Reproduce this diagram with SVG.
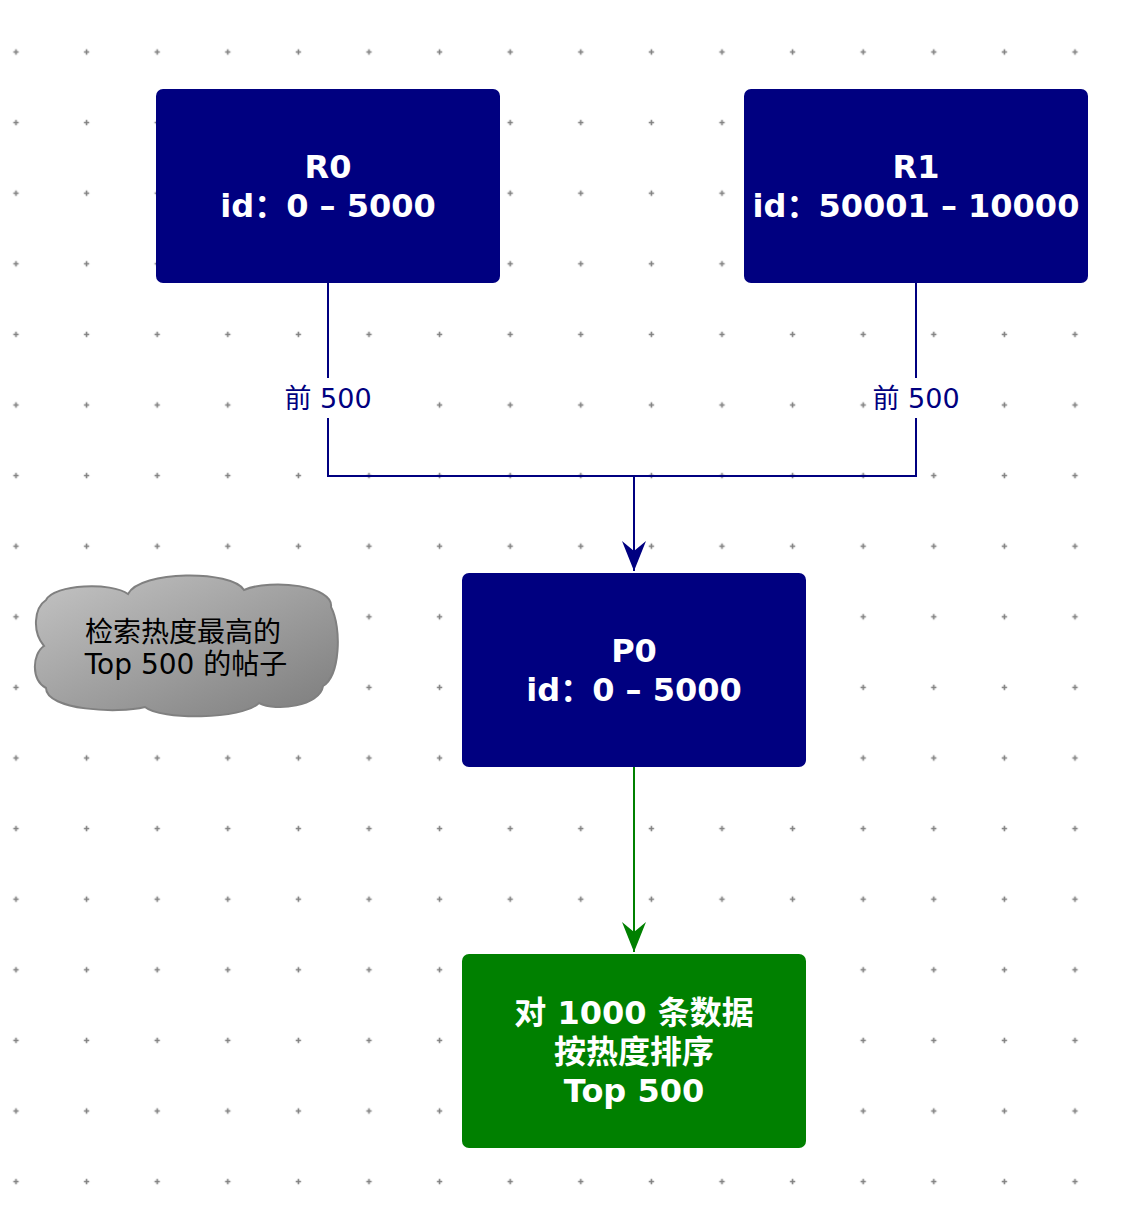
<svg xmlns="http://www.w3.org/2000/svg" width="1136" height="1222" viewBox="0 0 1136 1222">
<defs>
<pattern id="dots" patternUnits="userSpaceOnUse" x="-19.3" y="16.7" width="70.6" height="70.6">
<path d="M32.6 35.3h5.4M35.3 32.6v5.4" stroke="#808080" stroke-width="1.6"/>
</pattern>
<linearGradient id="cg" x1="0" y1="0" x2="1" y2="1">
<stop offset="0" stop-color="#c4c4c4"/>
<stop offset="1" stop-color="#7c7c7c"/>
</linearGradient>
<marker id="ab" markerUnits="userSpaceOnUse" markerWidth="30" markerHeight="34" refX="12" refY="30" orient="0" viewBox="0 0 24 34">
<path d="M12 30L0 0L12 10L24 0Z" fill="#000080"/>
</marker>
<marker id="ag" markerUnits="userSpaceOnUse" markerWidth="30" markerHeight="34" refX="12" refY="30" orient="0" viewBox="0 0 24 34">
<path d="M12 30L0 0L12 10L24 0Z" fill="#008000"/>
</marker>
</defs>
<style>
.node{stroke:none}
.t{font-family:"DejaVu Sans","Noto Sans CJK SC",sans-serif;font-weight:bold;font-size:32px;fill:#fff;text-anchor:middle}
.lbl{font-family:"DejaVu Sans","Noto Sans CJK SC",sans-serif;font-size:27px;fill:#000080;text-anchor:middle}
.ct{font-family:"DejaVu Sans","Noto Sans CJK SC",sans-serif;font-size:28px;fill:#000;text-anchor:middle}
.edge{fill:none;stroke-width:2}
</style>
<rect width="1136" height="1222" fill="#fff"/>
<rect width="1136" height="1222" fill="url(#dots)"/>
<g id="connectors">
<path class="edge" stroke="#000080" d="M328 283V476H634M916 283V476H634"/>
<path class="edge" stroke="#000080" d="M634 476V571" marker-end="url(#ab)"/>
<path class="edge" stroke="#008000" d="M634 767V952" marker-end="url(#ag)"/>
<g id="label-r0">
<rect x="282" y="378" width="92" height="40" fill="#fff"/>
<text class="lbl" x="328" y="408">前 500</text>
</g>
<g id="label-r1">
<rect x="870" y="378" width="92" height="40" fill="#fff"/>
<text class="lbl" x="916" y="408">前 500</text>
</g>
</g>
<g id="R0">
<rect class="node" x="156" y="89" width="344" height="194" rx="7" fill="#000080"/>
<text class="t" x="328" y="178">R0</text>
<text class="t" x="328" y="217">id：0 – 5000</text>
</g>
<g id="R1">
<rect class="node" x="744" y="89" width="344" height="194" rx="7" fill="#000080"/>
<text class="t" x="916" y="178">R1</text>
<text class="t" x="916" y="217">id：50001 – 10000</text>
</g>
<g id="P0">
<rect class="node" x="462" y="573" width="344" height="194" rx="7" fill="#000080"/>
<text class="t" x="634" y="662">P0</text>
<text class="t" x="634" y="701">id：0 – 5000</text>
</g>
<g id="result">
<rect class="node" x="462" y="954" width="344" height="194" rx="7" fill="#008000"/>
<text class="t" x="634" y="1024">对 1000 条数据</text>
<text class="t" x="634" y="1063">按热度排序</text>
<text class="t" x="634" y="1102">Top 500</text>
</g>
<g id="cloud">
<path d="M46 600C54 584 112 582 128 594C140 570 232 570 244 590C272 578 334 586 331 607C342 628 340 676 323 686C320 706 276 712 259 703C242 720 160 720 145 707C118 714 46 710 46 688C31 680 32 654 44 646C32 632 34 608 46 600Z" fill="url(#cg)" stroke="#808080" stroke-width="2"/>
<text class="ct" x="183" y="642">检索热度最高的</text>
<text class="ct" x="186" y="674">Top 500 的帖子</text>
</g>
</svg>
